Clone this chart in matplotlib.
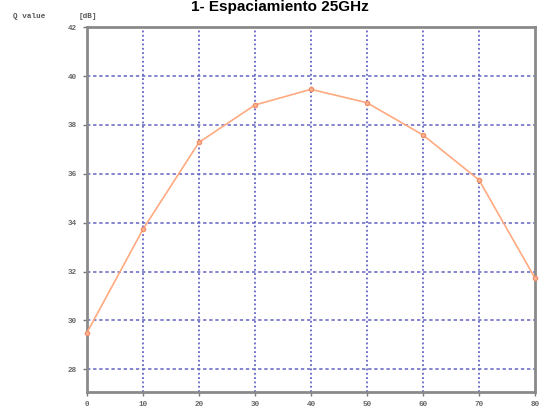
import matplotlib
matplotlib.use("Agg")
import matplotlib.pyplot as plt
from matplotlib.ticker import FixedLocator

# Q factor vs. launched position (25 GHz channel spacing)
x_values = [0, 10, 20, 30, 40, 50, 60, 70, 80]
q_values = [29.5, 33.73, 37.29, 38.82, 39.46, 38.91, 37.59, 35.75, 31.73]
x_ticks = [0, 10, 20, 30, 40, 50, 60, 70, 80]
y_ticks = [28, 30, 32, 34, 36, 38, 40, 42]

title_text = "1- Espaciamiento 25GHz"
y_label = "Q value"
y_unit = "[dB]"

fig = plt.figure(figsize=(5.43, 4.11), dpi=100)
ax = fig.add_axes([87 / 543, 1 - 391.7 / 411, (535 - 87) / 543, (391.7 - 27.3) / 411])

ax.set_xlim(0, 80)
ax.set_ylim(27.08, 42)

grid_color = "#6464c4"
for xv in x_ticks[1:-1]:
    ax.axvline(xv, color=grid_color, lw=1.3, ls=(0, (1.0, 1.4)), zorder=1)
for yv in y_ticks[:-1]:
    ax.axhline(yv, color=grid_color, lw=1.1, ls=(0, (2.2, 1.8)), zorder=1)

ax.plot(x_values, q_values, color="#ffaa80", lw=1.2, marker="o", ms=3,
        markerfacecolor="#ffb896", markeredgecolor="#f0906a", zorder=3, clip_on=False)

for sp in ax.spines.values():
    sp.set_color("#8a8a8a")
    sp.set_linewidth(2)

ax.xaxis.set_major_locator(FixedLocator(x_ticks))
ax.yaxis.set_major_locator(FixedLocator(y_ticks))
ax.tick_params(axis="both", direction="out", length=3, width=1, color="#777777",
               labelsize=5.5, labelcolor="#666666", pad=4)
for lab in ax.get_xticklabels() + ax.get_yticklabels():
    lab.set_family(["Liberation Mono", "DejaVu Sans Mono"])
    lab.set_fontweight("bold")

fig.text(280 / 543, 1 - 10.5 / 411, title_text, ha="center", va="baseline",
         fontsize=11, fontweight="bold", family=["Liberation Sans", "DejaVu Sans"])
fig.text(13 / 543, 1 - 18 / 411, y_label, ha="left", va="baseline",
         fontsize=5.5, fontweight="bold", color="#555555",
         family=["Liberation Mono", "DejaVu Sans Mono"])
fig.text(79 / 543, 1 - 18 / 411, y_unit, ha="left", va="baseline",
         fontsize=5.5, fontweight="bold", color="#555555",
         family=["Liberation Mono", "DejaVu Sans Mono"])

fig.savefig("out.png", dpi=100)
